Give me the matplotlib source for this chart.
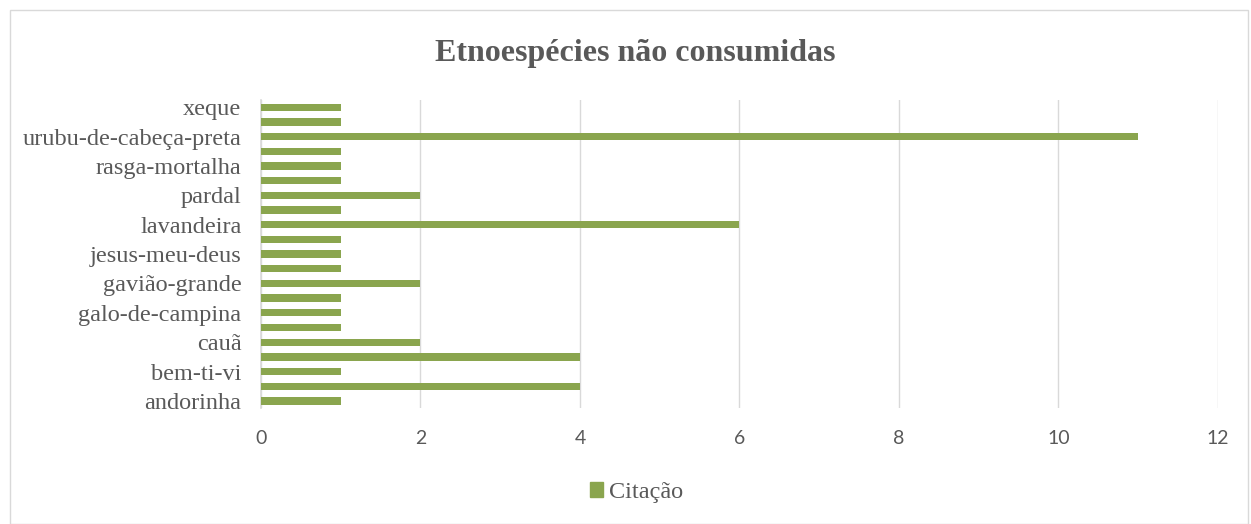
import matplotlib
matplotlib.use("Agg")
import matplotlib.pyplot as plt
import matplotlib.patches as mpatches

# categories bottom -> top (alphabetical, Excel shows every other label)
species = [
    "andorinha", "anum-preto", "bem-ti-vi", "carcará", "cauã", "coruja",
    "galo-de-campina", "garça", "gavião-grande", "graúna", "jesus-meu-deus",
    "juriti", "lavandeira", "maria-de-barro", "pardal", "periquito",
    "rasga-mortalha", "sabiá", "urubu-de-cabeça-preta", "urubu-rei", "xeque",
]
citacao = [1, 4, 1, 4, 2, 1, 1, 1, 2, 1, 1, 1, 6, 1, 2, 1, 1, 1, 11, 1, 1]
xticks = [0, 2, 4, 6, 8, 10, 12]

GREEN = "#8aa54e"
TEXT = "#595959"
GRID = "#d9d9d9"

fig = plt.figure(figsize=(12.51, 5.24), dpi=100)
ax = fig.add_axes([0.2086, 0.221, 0.765, 0.588])

y = range(len(species))
ax.barh(y, citacao, height=0.5, color=GREEN, zorder=3)

ax.set_xlim(0, 12)
ax.set_ylim(-0.5, len(species) - 0.5)
ax.set_xticks(xticks)
ax.set_xticklabels([str(t) for t in xticks], fontfamily=["Liberation Sans Narrow", "Lato"],
                   fontsize=14, color=TEXT)
ax.set_yticks(list(y)[::2])
ax.set_yticklabels(species[::2], fontfamily="Liberation Serif", fontsize=17.5, color=TEXT)
ax.tick_params(length=0)
ax.tick_params(axis="y", pad=14)
ax.tick_params(axis="x", pad=16)

ax.grid(axis="x", color=GRID, linewidth=1, zorder=0)
for s in ["top", "right", "bottom"]:
    ax.spines[s].set_visible(False)
ax.spines["left"].set_color(GRID)
ax.spines["left"].set_linewidth(1.2)

fig.text(0.508, 0.898, "Etnoespécies não consumidas", ha="center", va="center",
         fontfamily="Liberation Serif", fontweight="bold", fontsize=23, color=TEXT)

handle = mpatches.Patch(color=GREEN, label="Citação")
fig.legend(handles=[handle], loc="center", bbox_to_anchor=(0.509, 0.06), frameon=False,
           prop={"family": "Liberation Serif", "size": 17.5}, labelcolor=TEXT,
           handlelength=0.55, handleheight=0.55, handletextpad=0.25)

# chart area border
fig.patches.append(mpatches.Rectangle((0.008, 0.0), 0.99, 0.98, transform=fig.transFigure,
                                      fill=False, edgecolor=GRID, linewidth=1))

fig.savefig("out.png", dpi=100)
